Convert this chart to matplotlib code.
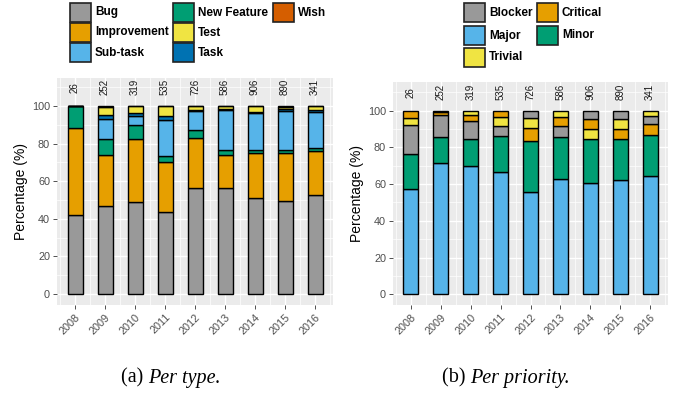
import numpy as np
import matplotlib
matplotlib.use("Agg")
import matplotlib.pyplot as plt
from matplotlib.patches import Rectangle

plt.rcParams['font.family'] = ['Liberation Sans', 'DejaVu Sans']

years = ['2008', '2009', '2010', '2011', '2012', '2013', '2014', '2015', '2016']
counts = [26, 252, 319, 535, 726, 586, 906, 890, 341]

# (a) per type, stacked bottom -> top in this order
type_names = ['Bug', 'Improvement', 'New Feature', 'Sub-task', 'Task', 'Test', 'Wish']
bug = [42.2, 47.0, 48.8, 43.6, 56.4, 56.2, 51.1, 49.3, 52.8]
improvement = [45.9, 26.9, 33.6, 26.6, 26.4, 17.7, 23.9, 25.9, 23.4]
new_feature = [11.9, 8.5, 7.5, 3.4, 4.4, 2.5, 1.4, 1.2, 1.5]
sub_task = [0, 10.9, 4.6, 19.0, 10.1, 21.5, 19.9, 21.1, 19.3]
task = [0, 1.9, 1.8, 2.3, 0.6, 0.3, 0.7, 0.7, 0.9]
test = [0, 4.3, 3.7, 5.1, 2.1, 1.8, 3.0, 1.4, 2.1]
wish = [0, 0.5, 0, 0, 0, 0, 0, 0.4, 0]
type_values = [bug, improvement, new_feature, sub_task, task, test, wish]

# (b) per priority, stacked by size (largest at the bottom)
prio_names = ['Blocker', 'Critical', 'Major', 'Minor', 'Trivial']
blocker = [15.4, 11.7, 10.2, 5.6, 3.8, 5.7, 4.7, 4.6, 4.0]
critical = [3.8, 1.5, 2.9, 3.5, 7.3, 5.2, 5.1, 5.8, 6.1]
major = [57.5, 71.5, 69.9, 66.6, 55.7, 63.0, 60.6, 62.2, 64.4]
minor = [19.1, 14.3, 14.5, 19.6, 27.6, 22.8, 23.8, 22.2, 22.4]
trivial = [4.2, 1.0, 2.5, 4.7, 5.6, 3.3, 5.8, 5.2, 3.1]
prio_values = [blocker, critical, major, minor, trivial]

colors = {
    'Bug': '#999999', 'Improvement': '#E69F00', 'Sub-task': '#56B4E9',
    'New Feature': '#009E73', 'Test': '#F0E442', 'Task': '#0072B2',
    'Wish': '#D55E00',
    'Blocker': '#999999', 'Critical': '#E69F00', 'Major': '#56B4E9',
    'Minor': '#009E73', 'Trivial': '#F0E442',
}

W, H = 677, 394
fig = plt.figure(figsize=(W / 100, H / 100), dpi=100)


def px_axes(x0, y0, x1, y1):
    return fig.add_axes([x0 / W, 1 - y1 / H, (x1 - x0) / W, (y1 - y0) / H])


def style_axes(ax, ylim):
    ax.set_facecolor('#EBEBEB')
    ax.set_xlim(-0.6, 8.6)
    ax.set_ylim(*ylim)
    for s in ax.spines.values():
        s.set_visible(False)
    for y in range(10, 111, 20):
        ax.axhline(y, color='white', lw=0.5, zorder=0)
    for y in range(0, 101, 20):
        ax.axhline(y, color='white', lw=1.0, zorder=0)
    for i in range(len(years)):
        ax.axvline(i, color='white', lw=1.0, zorder=0)
        ax.axvline(i + 0.5, color='white', lw=0.5, zorder=0)
    ax.axvline(-0.5, color='white', lw=0.5, zorder=0)
    ax.set_yticks(range(0, 101, 20))
    ax.set_xticks(range(len(years)))
    ax.set_xticklabels(years, rotation=45, ha='right', rotation_mode='anchor')
    ax.tick_params(axis='both', colors='#333333', labelcolor='#4D4D4D',
                   labelsize=7.8, length=3, width=0.6, pad=2)
    ax.set_ylabel('Percentage (%)', fontsize=10, color='black', labelpad=3)
    for i, c in enumerate(counts):
        ax.text(i, 110, str(c), rotation=90, ha='center', va='center',
                fontsize=7, color='#1A1A1A')


x = np.arange(len(years))

# left: fixed stacking order
ax1 = px_axes(57, 78, 333, 305)
style_axes(ax1, (-5.85, 114.9))
bottom = np.zeros(len(years))
for name, vals in zip(type_names, type_values):
    vals = np.array(vals)
    ax1.bar(x, vals, bottom=bottom, width=0.5, color=colors[name],
            edgecolor='black', linewidth=1.0, zorder=2)
    bottom += vals

# right: each bar stacked largest first
ax2 = px_axes(393, 82, 668, 305)
style_axes(ax2, (-5.83, 115.6))
for i in range(len(years)):
    order = sorted(range(len(prio_names)), key=lambda k: -prio_values[k][i])
    b = 0
    for k in order:
        v = prio_values[k][i]
        ax2.bar(x[i], v, bottom=b, width=0.5, color=colors[prio_names[k]],
                edgecolor='black', linewidth=1.0, zorder=2)
        b += v


def draw_legend(cols, keyx, rowy, kw, kh):
    for col, names in enumerate(cols):
        for row, name in enumerate(names):
            x0, y0 = keyx[col], rowy[row]
            fig.patches.append(Rectangle((x0 / W, 1 - (y0 + kh) / H), kw / W, kh / H,
                                         transform=fig.transFigure,
                                         facecolor=colors[name], edgecolor='#222222',
                                         linewidth=1.2))
            fig.text((x0 + kw + 4) / W, 1 - (y0 + kh / 2) / H, name,
                     fontsize=8.5, fontweight='bold', ha='left', va='center')


draw_legend([['Bug', 'Improvement', 'Sub-task'], ['New Feature', 'Test', 'Task'], ['Wish']],
            [70, 173, 273], [3, 23, 43], 21, 19)
draw_legend([['Blocker', 'Major', 'Trivial'], ['Critical', 'Minor']],
            [464, 537], [3, 26, 48], 21, 19)

# captions: upright label + italic title, centred together
renderer = fig.canvas.get_renderer()
for cx, lab, rest in [(171, '(a) ', 'Per type.'), (506, '(b) ', 'Per priority.')]:
    t1 = fig.text(0, 1 - 378 / H, lab, family=['Liberation Serif'], fontsize=14.5,
                  ha='left', va='center')
    t2 = fig.text(0, 1 - 378 / H, rest, family=['Liberation Serif'], fontsize=14.5,
                  style='italic', ha='left', va='center')
    w1 = t1.get_window_extent(renderer).width
    w2 = t2.get_window_extent(renderer).width
    start = cx - (w1 + w2) / 2
    t1.set_x(start / W)
    t2.set_x((start + w1) / W)

fig.savefig('out.png', dpi=100)
